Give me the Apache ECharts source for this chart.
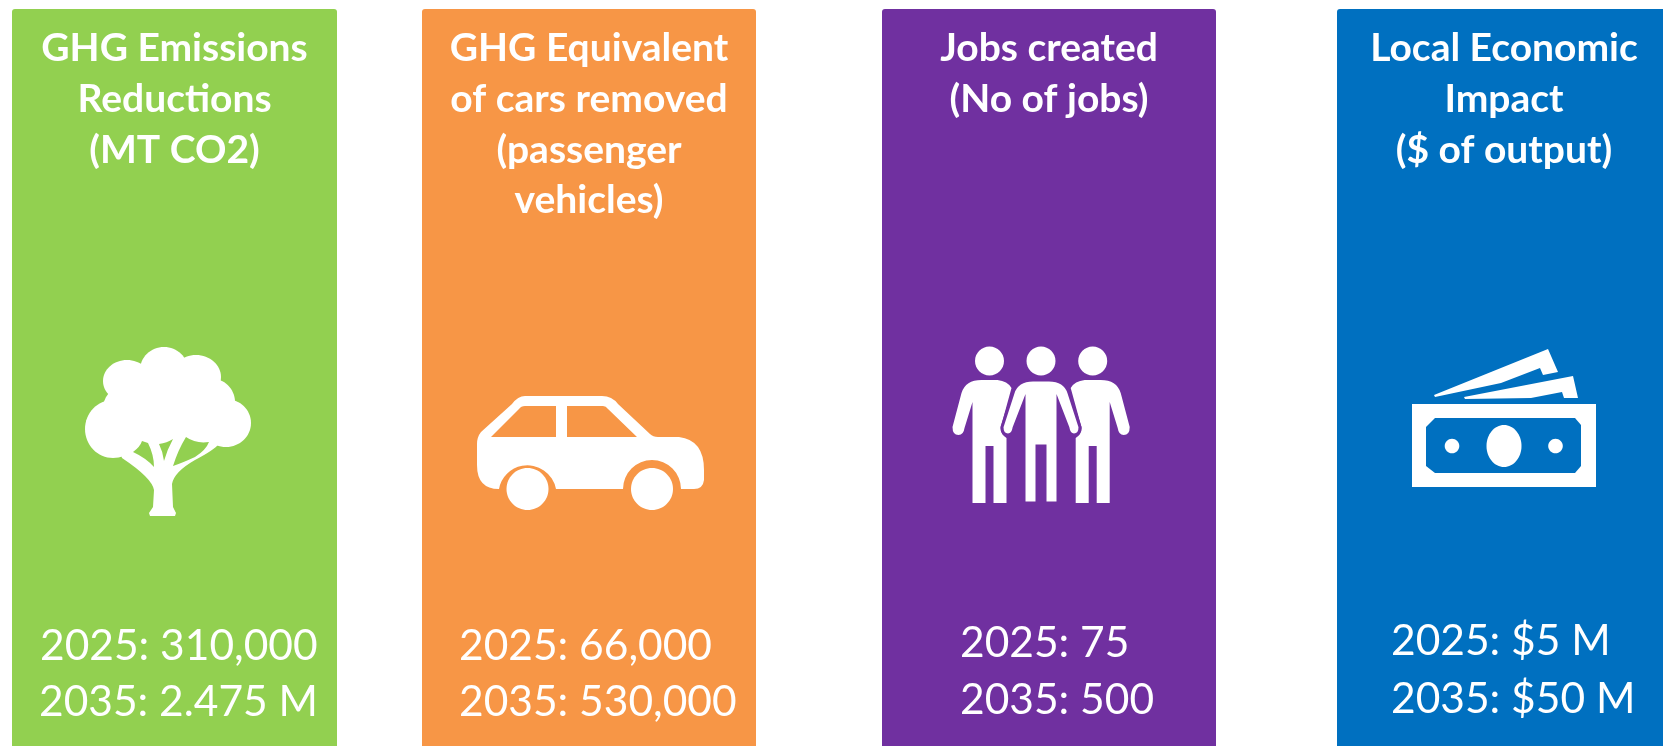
<!DOCTYPE html>
<html>
<head>
<meta charset="utf-8">
<title>Impact panels</title>
<script src="https://cdn.jsdelivr.net/npm/echarts@6/dist/echarts.min.js"></script>
<style>
  html, body { margin: 0; padding: 0; background: #fff; }
  #main { width: 1663px; height: 746px; }
</style>
</head>
<body>
<div id="main"></div>
<script>
const titles = [
  ["GHG Emissions", "Reductions", "(MT CO2)"],
  ["GHG Equivalent", "of cars removed", "(passenger", "vehicles)"],
  ["Jobs created", "(No of jobs)"],
  ["Local Economic", "Impact", "($ of output)"],
];
const years = ["2025", "2035"];
const values2025 = ["310,000", "66,000", "75", "$5 M"];
const values2035 = ["2.475 M", "530,000", "500", "$50 M"];
const colors = ["#92D050", "#F79646", "#7030A0", "#0070C0"];

// panel layout, x and width in page pixels
const panelX = [12, 422, 882, 1337];
const panelW = [325, 334, 334, 334];
const textX = [
  [40, 39],
  [459, 459],
  [960, 960],
  [1391, 1391],
];
const textY = [
  [661, 717],
  [661, 717],
  [658, 715],
  [656, 714],
];

const FONT = "Lato, 'Noto Sans', sans-serif";
const WHITE = "#fff";

function path(d, fill, stroke) {
  let el = { type: "path", shape: { pathData: d }, style: { fill: fill } };
  if (stroke) {
    el.style.stroke = stroke;
    el.style.lineWidth = 3;
  }
  return el;
}

function ellipse(cx, cy, rx, ry, fill) {
  return { type: "ellipse", shape: { cx: cx, cy: cy, rx: rx, ry: ry }, style: { fill: fill } };
}

function treeIcon(bg) {
  return [
    ellipse(164, 370, 24, 23, WHITE),
    ellipse(127, 381, 24, 21, WHITE),
    ellipse(196, 377, 25, 22, WHITE),
    ellipse(113, 429, 28, 29, WHITE),
    ellipse(226, 423, 25, 24, WHITE),
    ellipse(210, 402, 25, 24, WHITE),
    ellipse(168, 408, 65, 36, WHITE),
    path("M120 452 L122 458 Q152 478 154 490 L153 507 L149 513 L150 516 L175 516 L176 513 L173 507 L172 484 " +
      "Q174 472 195 460 Q214 450 219 444 L219 430 L120 430 Z", WHITE),
    path("M142 441 L148 443 Q154 455 154 467 Q146 458 133 452 Q140 447 142 441 Z", bg),
    path("M159 444 Q167 443 173 439 Q167 450 164 461 Q163 452 159 444 Z", bg),
    path("M186 437 Q196 444 209 442 Q206 450 195 457 Q182 463 173 466 Q178 450 186 437 Z", bg),
  ];
}

function carIcon(bg) {
  return [
    path("M525 396 L602 396 Q612 396 618 404 L650 434 Q653 437 658 437 L679 437 Q704 440 704 470 L704 480 " +
      "Q703 489 694 489 L681 489 A29 29 0 0 0 623 489 L556 489 A29 29 0 0 0 499 489 " +
      "Q477 489 477 465 L477 444 Q477 437 481 432 L512 404 Q518 396 525 396 Z", WHITE),
    path("M491 437 L556 437 L556 406 L525 406 Q521 406 519 409 Z", bg),
    path("M567 437 L637 437 L608 409 Q606 406 603 406 L567 406 Z", bg),
    ellipse(527.5, 489, 21, 21, WHITE),
    ellipse(652, 489, 21, 21, WHITE),
  ];
}

// one figure; the side figures give up the edge next to the middle one
function person(cx, cut, arm) {
  let d = "M" + (cx - 8) + " 380 ";
  if (cut == "left") {
    d += "Q" + (cx - 18) + " 381 " + (cx - 22) + " 388 L" + (cx - 11) + " 428 Q" + (cx - 11) + " 434 " + (cx - 17) + " 438 ";
  } else {
    d += "Q" + (cx - 24) + " 380 " + (cx - 28) + " 393 L" + (cx - arm) + " 427 Q" + (cx - arm) + " 435 " + (cx - arm + 6) + " 435 Q" + (cx - arm + 11) + " 435 " + (cx - arm + 12) + " 428 L" + (cx - 17) + " 402 ";
  }
  d += "L" + (cx - 17) + " 503 L" + (cx - 4) + " 503 L" + (cx - 4) + " 446 L" + (cx + 4) + " 446 L" + (cx + 4) + " 503 L" + (cx + 17) + " 503 ";
  if (cut == "right") {
    d += "L" + (cx + 17) + " 438 Q" + (cx + 11) + " 434 " + (cx + 11) + " 428 L" + (cx + 22) + " 388 Q" + (cx + 18) + " 381 " + (cx + 8) + " 380 Z";
  } else {
    d += "L" + (cx + 17) + " 402 L" + (cx + arm - 12) + " 428 Q" + (cx + arm - 11) + " 435 " + (cx + arm - 6) + " 435 Q" + (cx + arm) + " 435 " + (cx + arm) + " 427 ";
    d += "L" + (cx + 28) + " 393 Q" + (cx + 24) + " 380 " + (cx + 8) + " 380 Z";
  }
  return d;
}

function peopleIcon(bg) {
  return [
    path(person(989.5, "right", 37), WHITE),
    path(person(1092.7, "left", 37), WHITE),
    path(person(1041, null, 39), WHITE, bg),
    ellipse(989.5, 361, 14.5, 14.5, WHITE),
    ellipse(1041, 361, 14.5, 14.5, WHITE),
    ellipse(1092.7, 361, 14.5, 14.5, WHITE),
  ];
}

function moneyIcon(bg) {
  return [
    path("M1434 395 L1548 349 L1558 372 L1543 375 L1540 368 L1501 383 L1435 397 Z", WHITE),
    path("M1464 397 L1573 376 L1578 398 L1564 398 L1562 392 L1531 398 L1465 399 Z", WHITE),
    { type: "rect", shape: { x: 1412, y: 404, width: 184, height: 83 }, style: { fill: WHITE } },
    path("M1435 418 L1575 418 L1581 425 L1581 466 L1575 473 L1435 473 L1426 466 L1426 427 Z", bg),
    ellipse(1504, 446, 17.5, 21, WHITE),
    ellipse(1452, 446, 7.3, 7.3, WHITE),
    ellipse(1555.5, 446, 7.3, 7.3, WHITE),
  ];
}

const icons = [treeIcon, carIcon, peopleIcon, moneyIcon];

function renderPanel(params, api) {
  let i = api.value(0);
  let children = [
    {
      type: "rect",
      shape: { x: panelX[i], y: 9, width: panelW[i], height: 760, r: [3, 3, 0, 0] },
      style: { fill: colors[i] },
    },
  ];
  titles[i].forEach((line, j) => {
    children.push({
      type: "text",
      style: {
        x: panelX[i] + panelW[i] / 2,
        y: 48.5 + j * 50.8,
        text: line,
        fill: WHITE,
        font: "bold 39px " + FONT,
        align: "center",
        verticalAlign: "middle",
      },
    });
  });
  children = children.concat(icons[i](colors[i]));
  [values2025, values2035].forEach((vals, k) => {
    children.push({
      type: "text",
      style: {
        x: textX[i][k],
        y: textY[i][k] - 15,
        text: years[k] + ": " + vals[i],
        fill: WHITE,
        font: "42.5px " + FONT,
        align: "left",
        verticalAlign: "middle",
      },
    });
  });
  return { type: "group", children: children };
}

let chart = echarts.init(document.getElementById("main"));
chart.setOption({
  backgroundColor: "#fff",
  animation: false,
  series: [
    {
      type: "custom",
      coordinateSystem: "none",
      silent: true,
      renderItem: renderPanel,
      data: titles.map((t, i) => [i]),
    },
  ],
});
</script>
</body>
</html>
